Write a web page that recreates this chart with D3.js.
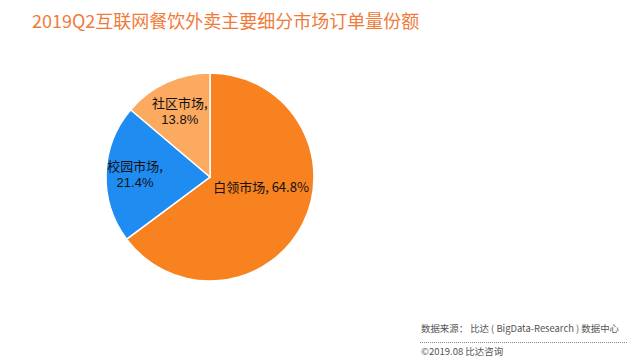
<!DOCTYPE html>
<html>
<head>
<meta charset="utf-8">
<script src="https://cdn.jsdelivr.net/npm/d3@7"></script>
<style>
  body { margin: 0; background: #fff; }
  svg { display: block; font-family: "Noto Sans CJK SC", "Noto Sans", sans-serif; }
</style>
</head>
<body>
<div id="chart"></div>
<script>
const categories = ["白领市场", "校园市场", "社区市场"];
const values = [64.8, 21.4, 13.8];
const colors = ["#F8821F", "#1F8CF2", "#FBAA60"]; // orange, blue, light orange

const width = 628;
const height = 362;
const cx = 210; // pie centre
const cy = 177;
const radius = 104;

const svg = d3.select("#chart")
  .append("svg")
  .attr("width", width)
  .attr("height", height);

// title
svg.append("text")
  .attr("x", 32)
  .attr("y", 28)
  .attr("font-size", "18px")
  .attr("fill", "#EF7B3A")
  .text("2019Q2互联网餐饮外卖主要细分市场订单量份额");

const g = svg.append("g")
  .attr("transform", `translate(${cx}, ${cy})`);

const pie = d3.pie().sort(null).value((d) => d);
const arc = d3.arc().innerRadius(0).outerRadius(radius);
const arcs = pie(values);

g.selectAll("path")
  .data(arcs)
  .enter()
  .append("path")
  .attr("d", arc)
  .attr("fill", (d, i) => colors[i])
  .attr("stroke", "#fff")
  .attr("stroke-width", 1.5);

// labels, roughly where Excel puts them
const labelRadius = [52, 75, 72];
const labelTurn = [-0.27, 0, 0]; // radians, big slice label sits a bit higher

arcs.forEach((d, i) => {
  const a = (d.startAngle + d.endAngle) / 2 + labelTurn[i];
  const x = Math.sin(a) * labelRadius[i];
  const y = -Math.cos(a) * labelRadius[i];
  const pct = `${values[i].toFixed(1)}%`;
  const lines = i === 0 ? [`${categories[i]}, ${pct}`] : [`${categories[i]},`, pct];
  lines.forEach((line, j) => {
    const t = g.append("text")
      .attr("x", x)
      .attr("y", y + (j - (lines.length - 1) / 2) * 16)
      .attr("dy", "0.35em")
      .attr("text-anchor", "middle")
      .attr("font-size", "13px")
      .attr("fill", "#111")
      .text(line);
    // the number-only line in a latin font, keeps the two lines apart
    if (j === 1) t.attr("font-family", "'Liberation Sans', Arial, sans-serif");
  });
});

// footer
svg.append("text")
  .attr("x", 421)
  .attr("y", 332)
  .attr("font-size", "9.5px")
  .attr("fill", "#555")
  .attr("textLength", 198)
  .attr("lengthAdjust", "spacingAndGlyphs")
  .text("数据来源： 比达 ( BigData-Research ) 数据中心");

svg.append("line")
  .attr("x1", 420).attr("x2", 628)
  .attr("y1", 342.5).attr("y2", 342.5)
  .attr("stroke", "#888")
  .attr("stroke-dasharray", "1,1");

svg.append("text")
  .attr("x", 421)
  .attr("y", 355)
  .attr("font-size", "9.5px")
  .attr("fill", "#555")
  .text("©2019.08  比达咨询");
</script>
</body>
</html>
